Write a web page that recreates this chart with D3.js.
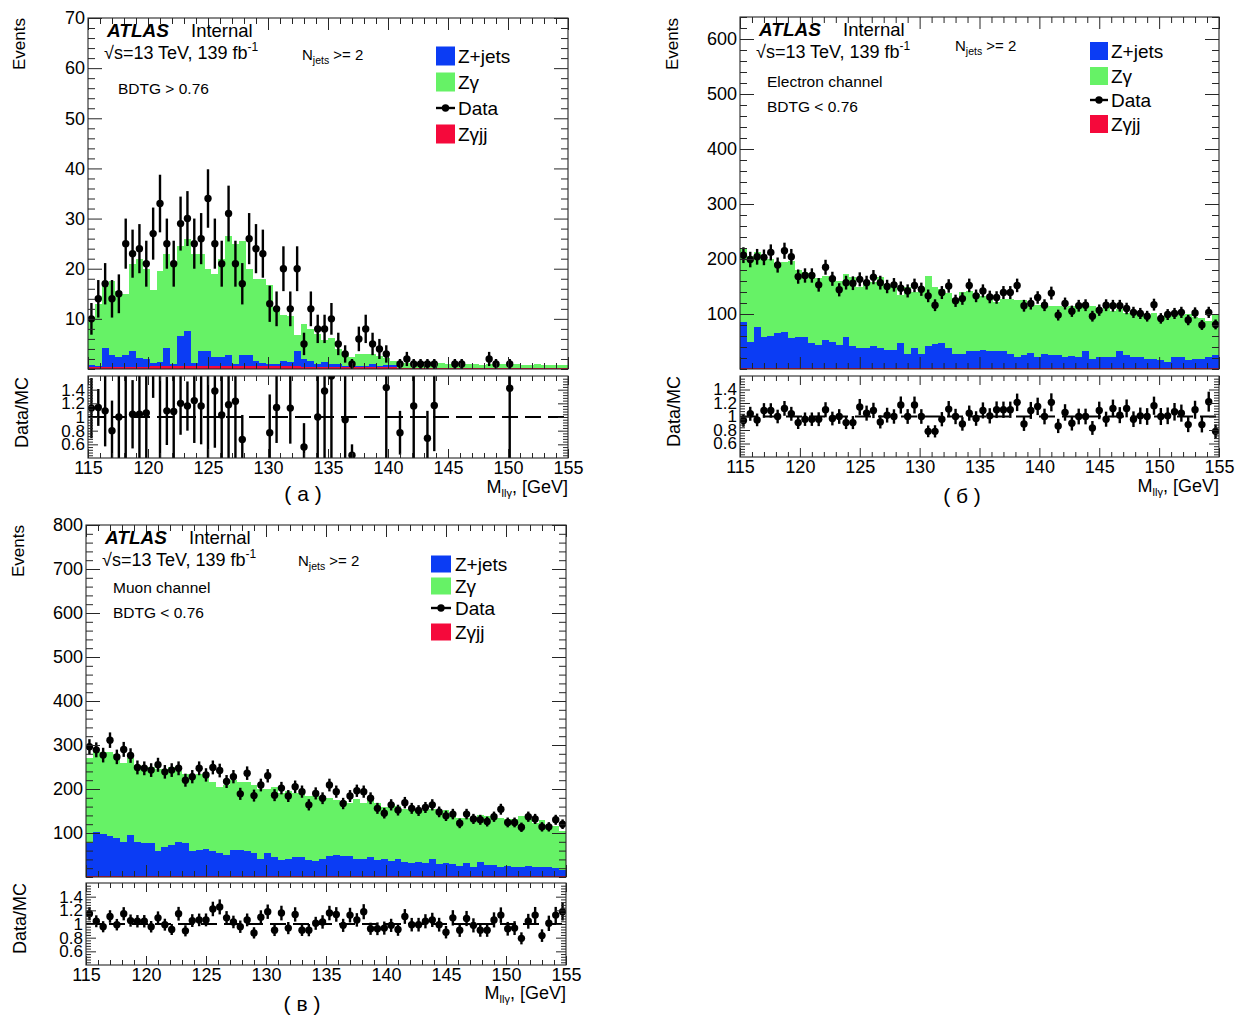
<!DOCTYPE html>
<html>
<head>
<meta charset="utf-8">
<script src="https://cdn.jsdelivr.net/npm/d3@7"></script>
<style>
  html, body { margin: 0; padding: 0; background: #fff; }
  svg { display: block; }
</style>
</head>
<body>
<svg id="fig" width="1236" height="1016"></svg>
<script>
// ---- binning and axis labels ----
const massRange = [115, 155];
const nBins = 70;
const binWidth = (massRange[1] - massRange[0]) / nBins;
const xTickLabels = [115, 120, 125, 130, 135, 140, 145, 150, 155];
const ratioRange = [0.4, 1.6];
const ratioTickLabels = [0.6, 0.8, 1, 1.2, 1.4];
const eventTicksA = [10, 20, 30, 40, 50, 60, 70];
const eventTicksB = [100, 200, 300, 400, 500, 600];
const eventTicksC = [100, 200, 300, 400, 500, 600, 700, 800];
const legendNames = ["Z+jets", "Z\u03b3", "Data", "Z\u03b3jj"];

// ---- (a) BDTG > 0.76 ----
const dataA = [10,14,17,14,15,25,23,24,21,27,
  33,25,21,29,30,25,26,34,25,21,
  31,21,17,26,24,23,13,12,20,12,
  20,5,12,8,8,10,5,3,1,6,
  8,5,4,3,0,1,2,1,1,1,
  1,0,0,1,1,0,0,0,2,1,
  0,1,0,0,0,0,0,0,0,0];
const zgjjA = [0.35,0.35,0.35,0.35,0.35,0.35,0.35,0.35,0.35,0.5,
  0.5,0.5,0.5,0.5,0.5,0.5,0.5,0.5,0.5,0.5,
  0.5,0.5,0.5,0.5,0.5,0.5,0.5,0.5,0.5,0.5,
  0.5,0.4,0.4,0.4,0.4,0.4,0.4,0.4,0.4,0.4,
  0.4,0.4,0.4,0.4,0.4,0.25,0.25,0.25,0.25,0.25,
  0.25,0.25,0.25,0.25,0.25,0.25,0.25,0.25,0.25,0.25,
  0.25,0.25,0.25,0.25,0.25,0.25,0.25,0.25,0.25,0.25];
const zjetsA = [0.35,0.25,3.75,2.45,1.95,2.45,3.15,1.75,1.55,0.6,
  0.8,3.6,0.4,6.0,7.1,0.6,3.0,3.0,1.8,1.8,
  2.3,0.4,2.3,2.3,1.0,0.6,0.4,0.4,1.0,0.8,
  3.0,1.5,1.1,0.6,0.9,0.6,0.6,0.2,0.1,0.2,
  0.2,0.6,0.2,0.4,0.4,0,0,0,0,0,
  0,0,0,0,0,0,0,0,0,0,
  0,0,0,0,0,0,0,0,0,0];
const zgammaA = [9.3,12.4,12.4,14.7,13.2,12.2,17.5,19.9,18.1,14.7,
  18.2,18.9,20.1,18.0,18.4,21.9,19.5,16.5,16.7,19.7,
  23.7,24.1,22.7,17.2,16.5,16.9,15.9,11.1,9.3,9.3,
  3.3,7.0,6.5,6.0,4.5,5.2,3.0,2.5,1.8,2.4,
  2.4,2.0,1.9,1.3,0.8,1.05,0.95,0.75,0.85,1.15,
  0.75,0.85,0.65,0.75,0.65,0.75,0.65,0.55,0.65,0.55,
  0.65,0.55,0.65,0.55,0.55,0.65,0.45,0.55,0.45,0.45];
const ratioA = [1.13,1.14,1.09,0.80,1.00,1.85,1.04,1.04,1.06,1.75,
  1.75,1.09,1.08,1.20,1.16,1.24,1.16,1.75,1.38,1.03,
  1.18,1.23,0.67,null,null,null,0.77,1.14,null,1.13,
  null,0.56,null,1.00,1.38,1.60,null,0.96,0.44,null,
  null,null,null,1.43,null,0.77,null,1.16,null,0.69,
  1.17,null,null,null,null,null,null,null,null,null,
  null,1.42,null,null,null,null,null,null,null,null];
const ratioErrA = [0.44,0.27,0.52,0.44,0.75,1.5,0.50,0.75,0.75,0.47,
  1.5,0.50,0.75,0.46,0.36,0.62,0.56,1.5,0.83,0.75,
  0.85,0.85,0.36,null,null,null,0.56,0.52,null,0.52,
  null,0.35,null,0.75,0.98,1.2,null,0.75,0.16,null,
  null,null,null,1.1,null,0.32,null,0.8,null,0.40,
  0.67,null,null,null,null,null,null,null,null,null,
  null,1.1,null,null,null,null,null,null,null,null];

// ---- (б) electron channel, BDTG < 0.76 ----
const dataB = [207,199,204,203,212,189,215,204,168,170,
  170,153,185,164,144,157,156,163,157,167,
  157,150,153,147,142,152,145,133,116,139,
  151,124,128,152,133,142,131,130,139,139,
  152,115,119,130,116,138,98,119,105,115,
  116,96,107,116,115,115,110,103,101,96,
  117,92,99,101,103,89,102,80,103,81];
const zgjjB = [2.5,2.5,2.5,2.5,2.5,2.5,2.5,2.5,2.5,2.5,
  2.5,2.5,2.5,2.5,2.5,2.5,2.5,2.5,2.5,2.5,
  2.5,2,2,2,2,2,2,2,2,2,
  2,2,2,2,2,2,2,2,2,2,
  2,2,2,2,2,2,2,2,2,2,
  2,1.5,1.5,1.5,1.5,1.5,1.5,1.5,1.5,1.5,
  1.5,1.5,1.5,1.5,1.5,1.5,1.5,1.5,1.5,1.5];
const zjetsB = [83.5,47.5,73.5,56.5,57.5,63.5,65.5,53.5,56.5,56.5,
  44.5,41.5,50.5,47.5,41.5,56.5,38.5,36.5,36.5,39.5,
  35.5,33,33,45,26,36,25,39,43,45,
  37,26,26,31,31,33,30,30,30,26,
  20,23,28,19,26,23,23,20,22,20,
  31,17.5,20.5,20.5,20.5,30.5,23.5,20.5,20.5,17.5,
  17.5,14.5,11.5,20.5,19.5,14.5,16.5,16.5,20.5,23.5];
const zgammaB = [134,155,136,141,140,126,127,140,121,117,
  128,121,117,118,116,113,127,111,116,116,
  130,117,120,88,122,102,121,129,105,98,
  99,102,112,109,103,97,98,90,95,99,
  104,101,85,95,89,90,89,91,91,92,
  82,95,82,93,84,78,77,84,79,79,
  82,78,85,74,77,84,76,74,66,75];
const ratioB = [0.94,1.04,0.95,1.09,1.09,1.00,1.12,1.04,0.91,0.96,
  0.96,0.96,1.10,0.97,1.00,0.91,0.91,1.14,1.05,1.09,
  0.92,1.02,1.00,1.17,1.00,1.17,1.00,0.78,0.78,0.96,
  1.11,1.00,0.89,1.05,0.97,1.09,1.01,1.10,1.10,1.10,
  1.21,0.89,1.09,1.15,1.00,1.21,0.86,1.06,0.90,1.00,
  1.00,0.83,1.09,0.96,1.12,1.02,1.12,0.96,1.01,1.00,
  1.16,1.00,1.01,1.07,1.05,0.88,1.10,0.88,1.22,0.78];
// relative statistical uncertainty of the simulated prediction
const mcStatRelB = 0.07;

// ---- (в) muon channel, BDTG < 0.76 ----
const dataC = [296,289,277,311,273,290,276,249,247,243,
  255,239,243,247,220,228,247,232,249,242,
  217,228,189,236,185,209,230,186,202,184,
  205,194,164,190,179,209,194,167,184,196,
  194,179,156,145,164,152,169,156,151,158,
  164,148,139,143,122,143,132,130,126,137,
  154,124,124,113,137,132,114,114,130,120];
const zgjjC = [3,3,3,3,3,3,3,3,3,3,
  3,3,3,3,3,3,3,3,3,3,
  3,3,3,3,3,3,3,3,3,3,
  3,3,3,3,3,3,2.5,2.5,2.5,2.5,
  2.5,2.5,2.5,2.5,2.5,2.5,2.5,2.5,2.5,2.5,
  2.5,2.5,2.5,2.5,2.5,2.5,2.5,2.5,2.5,2.5,
  2.5,2.5,2.5,2.5,2.5,2.5,2.5,2.5,2.5,2.5];
const zjetsC = [74,99,95,90,85,77,92,77,74,74,
  55,66,70,77,74,55,58,60,55,51,
  47,58,58,55,51,39,51,43,36,39,
  42,43,36,34,39,45,47.5,45.5,45.5,39.5,
  39.5,43.5,36.5,37.5,34.5,37.5,32.5,28.5,32.5,28.5,
  37.5,27.5,28.5,27.5,22.5,28.5,20.5,30.5,24.5,24.5,
  20.5,22.5,20.5,19.5,22.5,20.5,20.5,19.5,17.5,13.5];
const zgammaC = [193,183,187,192,192,178,175,175,173,173,
  187,176,177,160,158,170,174,169,157,151,
  160,159,154,157,156,158,146,159,151,153,
  145,154,146,148,136,132,125,124,120,136,
  126,134,129,120,128,122,120,127,120,121,
  115,120,121,108,110,104,112,107,111,105,
  112,107,109,116,107,99,107,96,95,89];
const ratioC = [1.15,1.04,0.96,1.11,0.99,1.15,1.05,1.04,1.04,0.96,
  1.09,0.99,0.92,1.15,0.90,1.05,1.06,1.06,1.22,1.25,
  1.09,1.03,0.96,1.06,0.87,1.10,1.18,0.91,1.16,0.94,
  1.14,0.91,0.91,1.01,1.03,1.16,1.14,0.98,1.13,1.06,
  1.18,0.93,0.93,0.94,0.98,0.92,1.11,0.99,0.99,1.04,
  1.06,0.99,0.88,1.09,0.91,1.08,0.98,0.91,0.91,1.06,
  1.13,0.93,0.94,0.79,1.04,1.13,0.83,1.01,1.13,1.18];
const mcStatRelC = 0.06;

// ---- styles ----
const FONT = "'Liberation Sans', Arial, Helvetica, sans-serif";
const INK = "#262626";
const fillColors = { zjets: "#0b3cf4", zgamma: "#66f266", zgjj: "#f5093b" };

const svg = d3.select("#fig");
const defs = svg.append("defs");

const edge = i => massRange[0] + i * binWidth;
const center = i => edge(i) + binWidth / 2;

function addAxis(g, axis, tx, ty, fontSize) {
  const a = g.append("g").attr("transform", `translate(${tx},${ty})`).call(axis);
  a.select(".domain").remove();
  a.attr("font-family", FONT).attr("font-size", fontSize || 10);
  a.selectAll(".tick line").attr("stroke", INK).attr("stroke-width", 1);
  a.selectAll(".tick text").attr("fill", "#000");
  return a;
}

function boxTicks(g, x, y, box, spec) {
  const xMaj = d3.range(115, 155.01, 5);
  const xMin = d3.range(115, 155.01, 1).filter(v => v % 5 !== 0);
  addAxis(g, d3.axisLeft(y).tickValues(spec.yLabels).tickSizeInner(-spec.yMaj).tickSizeOuter(0)
    .tickPadding(spec.yPad).tickFormat(spec.yFmt), box.x0, 0, spec.yfs || spec.fs);
  addAxis(g, d3.axisLeft(y).tickValues(spec.yMinor).tickSizeInner(-spec.yMin).tickSizeOuter(0).tickFormat(""), box.x0, 0);
  addAxis(g, d3.axisRight(y).tickValues(spec.yLabels).tickSizeInner(-spec.yMaj).tickSizeOuter(0).tickFormat(""), box.x1, 0);
  addAxis(g, d3.axisRight(y).tickValues(spec.yMinor).tickSizeInner(-spec.yMin).tickSizeOuter(0).tickFormat(""), box.x1, 0);
  addAxis(g, d3.axisTop(x).tickValues(xMaj).tickSizeInner(-spec.xMaj).tickSizeOuter(0).tickFormat(""), 0, box.y0);
  addAxis(g, d3.axisTop(x).tickValues(xMin).tickSizeInner(-spec.xMin).tickSizeOuter(0).tickFormat(""), 0, box.y0);
  addAxis(g, d3.axisBottom(x).tickValues(spec.xLabels || xMaj).tickSizeInner(-spec.xMaj).tickSizeOuter(0)
    .tickPadding(spec.xPad || 3).tickFormat(spec.xFmt || (() => "")), 0, box.y1, spec.fs);
  addAxis(g, d3.axisBottom(x).tickValues(xMin).tickSizeInner(-spec.xMin).tickSizeOuter(0).tickFormat(""), 0, box.y1);
}

function text(g, x, y, size, str, extra) {
  const t = g.append("text").attr("x", x).attr("y", y).attr("font-family", FONT)
    .attr("font-size", size).attr("fill", "#000").text(str);
  if (extra) Object.entries(extra).forEach(([k, v]) => t.attr(k, v));
  return t;
}

function drawPanel(p, L) {
  const x = d3.scaleLinear().domain(massRange).range([L.x0, L.x1]);
  const y = d3.scaleLinear().domain([0, p.yMax]).range([L.y1, L.y0]);
  const yr = d3.scaleLinear().domain(ratioRange).range([L.r1, L.r0]);
  const g = svg.append("g");

  const cm = "clipMain" + p.id, cr = "clipRatio" + p.id;
  defs.append("clipPath").attr("id", cm).append("rect")
    .attr("x", L.x0).attr("y", L.y0).attr("width", L.x1 - L.x0).attr("height", L.y1 - L.y0);
  defs.append("clipPath").attr("id", cr).append("rect")
    .attr("x", L.x0).attr("y", L.r0).attr("width", L.x1 - L.x0).attr("height", L.r1 - L.r0);

  // stacked MC histograms: Zγjj at the bottom, then Z+jets, then Zγ
  const rows = d3.range(nBins).map(i => ({ zgjj: p.zgjj[i], zjets: p.zjets[i], zgamma: p.zgamma[i] }));
  const layers = d3.stack().keys(["zgjj", "zjets", "zgamma"])(rows);
  const area = d3.area().x(d => d[0]).y0(d => d[1]).y1(d => d[2]);
  const main = g.append("g").attr("clip-path", `url(#${cm})`);
  layers.forEach(layer => {
    const pts = layer.flatMap((d, i) => [
      [x(edge(i)), y(d[0]), y(d[1])],
      [x(edge(i + 1)), y(d[0]), y(d[1])]
    ]);
    main.append("path").attr("d", area(pts)).attr("fill", fillColors[layer.key])
      .attr("shape-rendering", "crispEdges");
  });

  // observed events with Poisson errors
  const obs = p.data.map((n, i) => ({ n, c: x(center(i)) })).filter(d => d.n > 0);
  main.append("g").selectAll("line").data(obs).join("line")
    .attr("x1", d => d.c).attr("x2", d => d.c)
    .attr("y1", d => y(d.n + Math.sqrt(d.n))).attr("y2", d => y(d.n - Math.sqrt(d.n)))
    .attr("stroke", "#000").attr("stroke-width", 2.4);
  main.append("g").selectAll("circle").data(obs).join("circle")
    .attr("cx", d => d.c).attr("cy", d => y(d.n)).attr("r", 3.7).attr("fill", "#000");

  g.append("rect").attr("x", L.x0).attr("y", L.y0).attr("width", L.x1 - L.x0).attr("height", L.y1 - L.y0)
    .attr("fill", "none").attr("stroke", INK).attr("stroke-width", 1.1);

  boxTicks(g, x, y, { x0: L.x0, x1: L.x1, y0: L.y0, y1: L.y1 }, {
    yLabels: p.yTicks, yMinor: d3.range(0, p.yMax + 0.01, p.yMinorStep).filter(v => !p.yTicks.includes(v)),
    yMaj: 14, yMin: 7, xMaj: 12, xMin: 6, yPad: 3, fs: 18, yFmt: d3.format("d")
  });

  // ratio panel: data over the summed prediction
  g.append("line").attr("x1", L.x0).attr("x2", L.x1).attr("y1", yr(1)).attr("y2", yr(1))
    .attr("stroke", "#000").attr("stroke-width", 2).attr("stroke-dasharray", "16,7");
  const rat = p.ratio.map((r, i) => r == null ? null : {
    r, c: x(center(i)),
    e: p.ratioErr ? p.ratioErr[i] : r * Math.sqrt(1 / p.data[i] + p.mcStatRel * p.mcStatRel)
  }).filter(d => d);
  const rg = g.append("g").attr("clip-path", `url(#${cr})`);
  rg.append("g").selectAll("line").data(rat).join("line")
    .attr("x1", d => d.c).attr("x2", d => d.c)
    .attr("y1", d => yr(d.r + d.e)).attr("y2", d => yr(d.r - d.e))
    .attr("stroke", "#000").attr("stroke-width", 2.4);
  rg.append("g").selectAll("circle").data(rat).join("circle")
    .attr("cx", d => d.c).attr("cy", d => yr(d.r)).attr("r", 3.7).attr("fill", "#000");

  g.append("rect").attr("x", L.x0).attr("y", L.r0).attr("width", L.x1 - L.x0).attr("height", L.r1 - L.r0)
    .attr("fill", "none").attr("stroke", INK).attr("stroke-width", 1.1);

  const rMinor = d3.range(0, 31).filter(k => k % 5 !== 0).map(k => ratioRange[0] + k * 0.04);
  boxTicks(g, x, yr, { x0: L.x0, x1: L.x1, y0: L.r0, y1: L.r1 }, {
    yLabels: ratioTickLabels, yMinor: rMinor, yMaj: 10, yMin: 5, xMaj: 9, xMin: 5,
    yPad: 3, fs: 18, yfs: 17, yFmt: d => d === 1 ? "1" : d3.format(".1f")(d),
    xPad: 3, xLabels: xTickLabels, xFmt: d3.format("d")
  });

  // axis titles
  text(g, 0, 0, 17, "Events", { "text-anchor": "end",
    transform: `translate(${L.events[0]},${L.events[1]}) rotate(-90)` });
  text(g, 0, 0, 18, "Data/MC", { "text-anchor": "end",
    transform: `translate(${L.ratioTitle[0]},${L.ratioTitle[1]}) rotate(-90)` });
  const mt = text(g, L.massTitle[0], L.massTitle[1], 18, "M", { "text-anchor": "end" });
  mt.append("tspan").attr("font-size", 11).attr("dy", 4).text("ll\u03b3");
  mt.append("tspan").attr("dy", -4).text(", [GeV]");
  text(g, L.caption[0], L.caption[1], 21, L.caption[2], { "text-anchor": "middle" });

  // labels inside the frame
  text(g, L.atlas[0], L.atlas[1], 19, "ATLAS", { "font-weight": "bold", "font-style": "italic" });
  text(g, L.internalX, L.atlas[1], 18.5, "Internal");
  const sq = text(g, L.sqrt[0], L.sqrt[1], 18, "\u221as=13 TeV, 139 fb");
  sq.append("tspan").attr("font-size", 12).attr("dy", -8).text("-1");
  const nj = text(g, L.njets[0], L.njets[1], 15, "N");
  nj.append("tspan").attr("font-size", 10.5).attr("dy", 4).text("jets");
  nj.append("tspan").attr("dy", -4).text(" >= 2");
  L.notes.forEach(n => text(g, n[0], n[1], 15.5, n[2]));

  // legend
  const lg = L.legend;
  const swatch = [fillColors.zjets, fillColors.zgamma, null, fillColors.zgjj];
  legendNames.forEach((name, k) => {
    const cy = lg.ys[k];
    if (swatch[k]) {
      g.append("rect").attr("x", lg.x).attr("y", cy - lg.h / 2).attr("width", lg.w).attr("height", lg.h)
        .attr("fill", swatch[k]);
    } else {
      g.append("line").attr("x1", lg.x).attr("x2", lg.x + lg.w).attr("y1", cy).attr("y2", cy)
        .attr("stroke", "#000").attr("stroke-width", 2.4);
      g.append("circle").attr("cx", lg.x + lg.w / 2).attr("cy", cy).attr("r", 3.7).attr("fill", "#000");
    }
    text(g, lg.tx, cy + 7, 19, name);
  });
}

const panels = [
  { id: "a", data: dataA, zjets: zjetsA, zgamma: zgammaA, zgjj: zgjjA, ratio: ratioA, ratioErr: ratioErrA,
    mcStatRel: 0, yMax: 70, yTicks: eventTicksA, yMinorStep: 2 },
  { id: "b", data: dataB, zjets: zjetsB, zgamma: zgammaB, zgjj: zgjjB, ratio: ratioB, ratioErr: null,
    mcStatRel: mcStatRelB, yMax: 640, yTicks: eventTicksB, yMinorStep: 20 },
  { id: "c", data: dataC, zjets: zjetsC, zgamma: zgammaC, zgjj: zgjjC, ratio: ratioC, ratioErr: null,
    mcStatRel: mcStatRelC, yMax: 800, yTicks: eventTicksC, yMinorStep: 20 }
];

const layouts = [
  { x0: 88, x1: 568, y0: 18, y1: 369, r0: 376, r1: 458,
    atlas: [107, 37], internalX: 191, sqrt: [104, 59], njets: [302, 60],
    notes: [[118, 94, "BDTG > 0.76"]],
    legend: { x: 436, ys: [56, 82, 108, 134], w: 19, h: 19, tx: 458 },
    events: [25, 18], ratioTitle: [28, 377], massTitle: [568, 493], caption: [303, 501, "( a )"] },
  { x0: 740, x1: 1219, y0: 17, y1: 369, r0: 376, r1: 457,
    atlas: [759, 36], internalX: 843, sqrt: [756, 58], njets: [955, 51],
    notes: [[767, 87, "Electron channel"], [767, 112, "BDTG < 0.76"]],
    legend: { x: 1090, ys: [51, 76, 100, 124], w: 18, h: 18, tx: 1111 },
    events: [678, 18], ratioTitle: [680, 376], massTitle: [1219, 492], caption: [962, 503, "( \u0431 )"] },
  { x0: 86, x1: 566, y0: 525, y1: 877, r0: 883, r1: 965,
    atlas: [105, 544], internalX: 189, sqrt: [102, 566], njets: [298, 566],
    notes: [[113, 593, "Muon channel"], [113, 618, "BDTG < 0.76"]],
    legend: { x: 431, ys: [564, 586, 608, 632], w: 20, h: 17, tx: 455 },
    events: [24, 525], ratioTitle: [26, 883], massTitle: [566, 999], caption: [302, 1011, "( \u0432 )"] }
];

panels.forEach((p, k) => drawPanel(p, layouts[k]));
</script>
</body>
</html>
